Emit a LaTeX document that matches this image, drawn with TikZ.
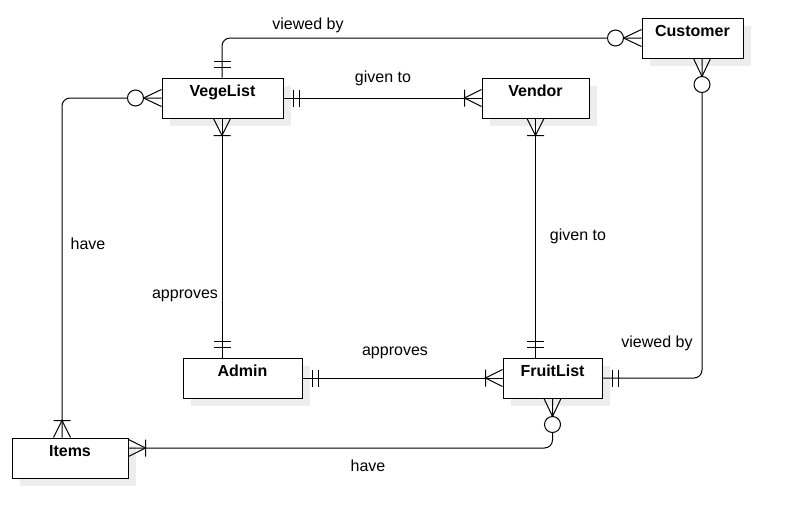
\documentclass[tikz,border=0pt]{standalone}
\usepackage{fontspec}
\setmainfont{Liberation Sans}
\usetikzlibrary{positioning,shadows}

\begin{document}
\begin{tikzpicture}[
  x=1pt, y=-1pt,
  line width=1pt,
  entity/.style={draw, fill=white, inner sep=0pt, minimum height=40pt, text height=18.5pt, text depth=21.5pt, font=\fontsize{16}{19}\selectfont\bfseries, drop shadow={shadow xshift=8pt, shadow yshift=-8pt, fill=black!7, opacity=1}},
  rel/.style={font=\fontsize{16}{19}\selectfont},
  link/.style={rounded corners=8pt},
  erOne/.pic={\draw (10,-8.5) -- (10,8.5) (16,-8.5) -- (16,8.5);},
  erOneMany/.pic={\draw (0,-8.5) -- (17,0) -- (0,8.5) (17,-8.5) -- (17,8.5);},
  erZeroMany/.pic={\draw (0,-8.5) -- (18,0) -- (0,8.5); \draw[fill=white] (26,0) circle[radius=8];}
]
\useasboundingbox (0,0) rectangle (792,528);
% entities
\node[entity, minimum width=101pt] (cust) at (692.5,38) {Customer};
\node[entity, minimum width=121pt] (vege) at (222.5,98) {VegeList};
\node[entity, minimum width=107pt] (vendor) at (535.5,98) {Vendor};
\node[entity, minimum width=119pt] (admin) at (242.5,378) {Admin};
\node[entity, minimum width=99pt] (fruit) at (552.5,378) {FruitList};
\node[entity, minimum width=116pt] (items) at (70,458) {Items};
% relationship labels
\node[rel] (l1) at (308,25) {viewed by};
\node[rel] (l2) at (383,78) {given to};
\node[rel] (l3) at (88,244) {have};
\node[rel] (l4) at (185,296) {approves};
\node[rel] (l5) at (578,236) {given to};
\node[rel] (l6) at (395,353) {approves};
\node[rel] (l7) at (657,343) {viewed by};
\node[rel] (l8) at (368,466) {have};
% connectors
\draw[link] ([xshift=-0.5pt]vege.north) |- (cust.west);
\draw (vege.east) -- (vendor.west);
\draw[link] (vege.west) -| ([xshift=-8pt]items.north);
\draw ([xshift=-0.5pt]vege.south) -- ([xshift=-0.5pt]vege.south |- admin.north);
\draw (vendor.south) -- (vendor.south |- fruit.north);
\draw (admin.east) -- (fruit.west);
\draw[link] ([xshift=9.5pt]cust.south) |- (fruit.east);
\draw[link] (fruit.south) |- ([yshift=10pt]items.east);
% end marks
\pic[rotate=90] at ([xshift=-0.5pt]vege.north) {erOne};
\pic[rotate=180] at (cust.west) {erZeroMany};
\pic at (vege.east) {erOne};
\pic[rotate=180] at (vendor.west) {erOneMany};
\pic[rotate=180] at (vege.west) {erZeroMany};
\pic[rotate=90] at ([xshift=-8pt]items.north) {erOneMany};
\pic[rotate=270] at ([xshift=-0.5pt]vege.south) {erOneMany};
\pic[rotate=90] at ([xshift=-0.5pt]vege.south |- admin.north) {erOne};
\pic[rotate=270] at (vendor.south) {erOneMany};
\pic[rotate=90] at (vendor.south |- fruit.north) {erOne};
\pic at (admin.east) {erOne};
\pic[rotate=180] at (fruit.west) {erOneMany};
\pic[rotate=270] at ([xshift=9.5pt]cust.south) {erZeroMany};
\pic at (fruit.east) {erOne};
\pic[rotate=270] at (fruit.south) {erZeroMany};
\pic at ([yshift=10pt]items.east) {erOneMany};
\end{tikzpicture}
\end{document}
